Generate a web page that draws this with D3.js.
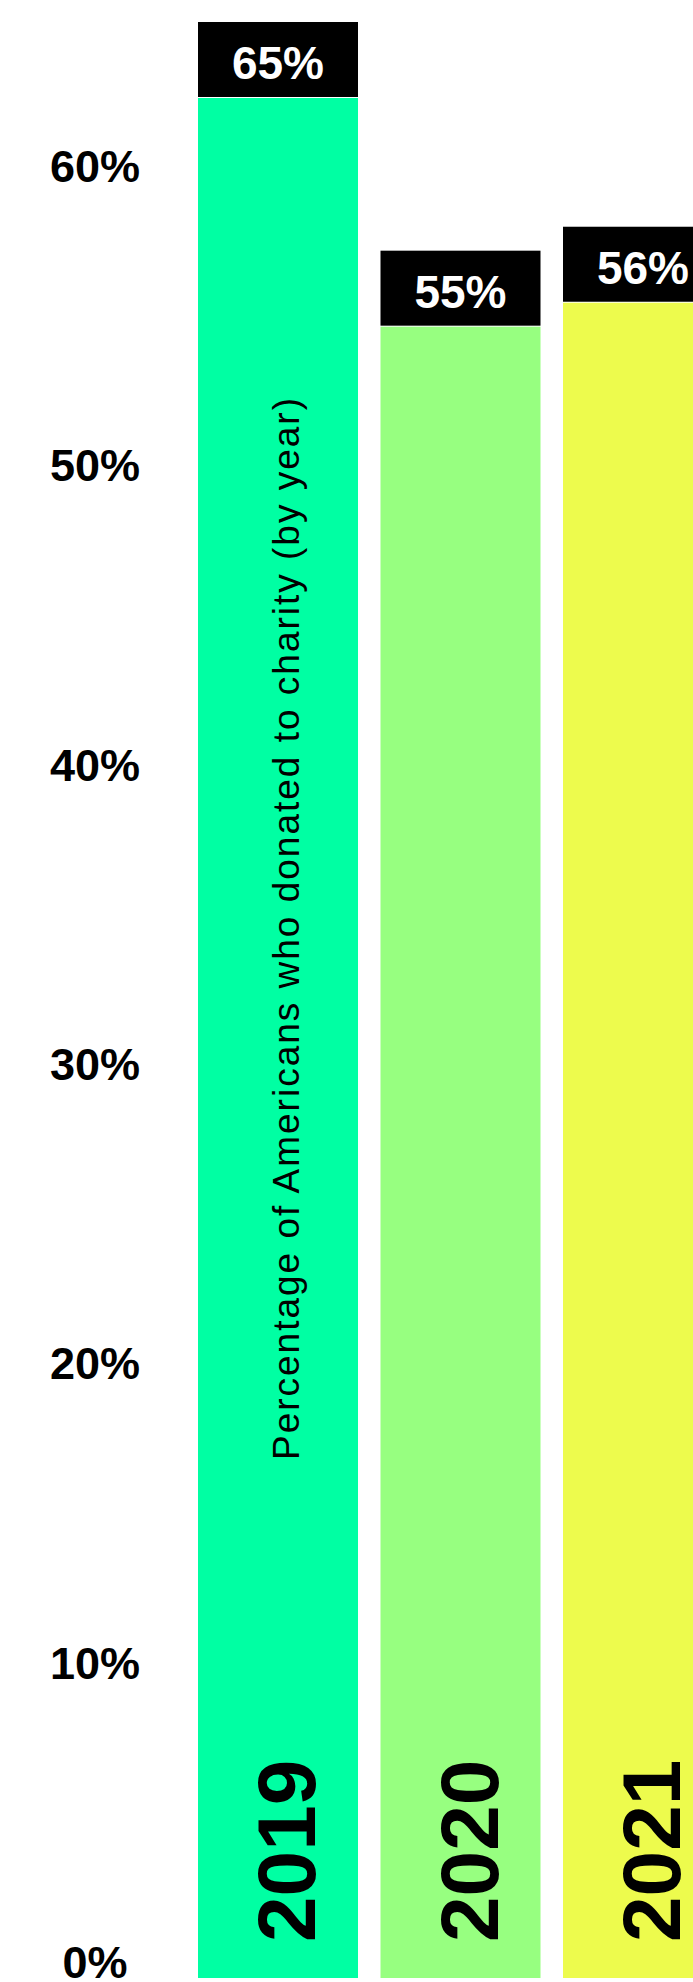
<!DOCTYPE html>
<html>
<head>
<meta charset="utf-8">
<script src="https://cdn.jsdelivr.net/npm/d3@7"></script>
<style>
  body { margin: 0; background: #fff; }
  text { font-family: "Liberation Sans", Arial, sans-serif; }
</style>
</head>
<body>
<div id="chart"></div>
<script>
var years = ["2019", "2020", "2021"]
var values = [65, 55.2, 56]
var barColors = ["#00FFA3", "#97FF80", "#EDFB4D"]
var tickValues = [0, 10, 20, 30, 40, 50, 60]
var axisTitle = "Percentage of Americans who donated to charity (by year)"

var width = 693,
  height = 1982

var svg = d3.select("#chart")
  .append("svg")
  .attr("width", width)
  .attr("height", height)

var marginTop = 22, zero = 1978, boxH = 75

var y = d3.scaleLinear()
  .domain([0, 60])
  .range([zero, 182])

// step 182.5, bars 160 wide; the last one runs past the frame
var x = d3.scaleBand()
  .domain(years)
  .range([198, 723])
  .paddingInner(22.5 / 182.5)
  .paddingOuter(0)

var data = years.map(function(d, i) {
  return { year: d, value: values[i], color: barColors[i] }
})

// value boxes sit on top of bars, pushed down when they would leave the frame
function boxTop(d) {
  return Math.max(marginTop, y(d.value) - boxH)
}

var bars = svg.selectAll(".bar")
  .data(data)
  .enter().append("g")
  .attr("class", "bar")

bars.append("rect")
  .attr("x", function(d) { return x(d.year) })
  .attr("width", x.bandwidth())
  .attr("y", function(d) { return boxTop(d) + boxH + 1 })
  .attr("height", function(d) { return zero - (boxTop(d) + boxH + 1) })
  .attr("fill", function(d) { return d.color })

bars.append("rect")
  .attr("x", function(d) { return x(d.year) })
  .attr("width", x.bandwidth())
  .attr("y", boxTop)
  .attr("height", boxH)
  .attr("fill", "#000")

bars.append("text")
  .attr("x", function(d) { return x(d.year) + x.bandwidth() / 2 })
  .attr("y", function(d) { return boxTop(d) + boxH - 18 })
  .attr("text-anchor", "middle")
  .style("font-size", "46px")
  .style("font-weight", "bold")
  .style("fill", "#fff")
  .text(function(d) { return Math.round(d.value) + "%" })

bars.append("text")
  .attr("transform", function(d) {
    return "translate(" + (x(d.year) + x.bandwidth() / 2 + 37) + "," + (zero - 36) + ") rotate(-90)"
  })
  .attr("text-anchor", "start")
  .style("font-size", "82px")
  .style("font-weight", "bold")
  .style("fill", "#000")
  .text(function(d) { return d.year })

// y axis labels, no line
svg.selectAll(".tick-label")
  .data(tickValues)
  .enter().append("text")
  .attr("class", "tick-label")
  .attr("x", 95)
  .attr("y", function(d) { return y(d) })
  .attr("text-anchor", "middle")
  .style("font-size", "45px")
  .style("font-weight", "bold")
  .style("fill", "#000")
  .text(function(d) { return d + "%" })

svg.append("text")
  .attr("transform", "translate(299,1460) rotate(-90)")
  .attr("text-anchor", "start")
  .attr("textLength", 1062)
  .style("font-size", "37px")
  .style("fill", "#000")
  .text(axisTitle)
</script>
</body>
</html>
